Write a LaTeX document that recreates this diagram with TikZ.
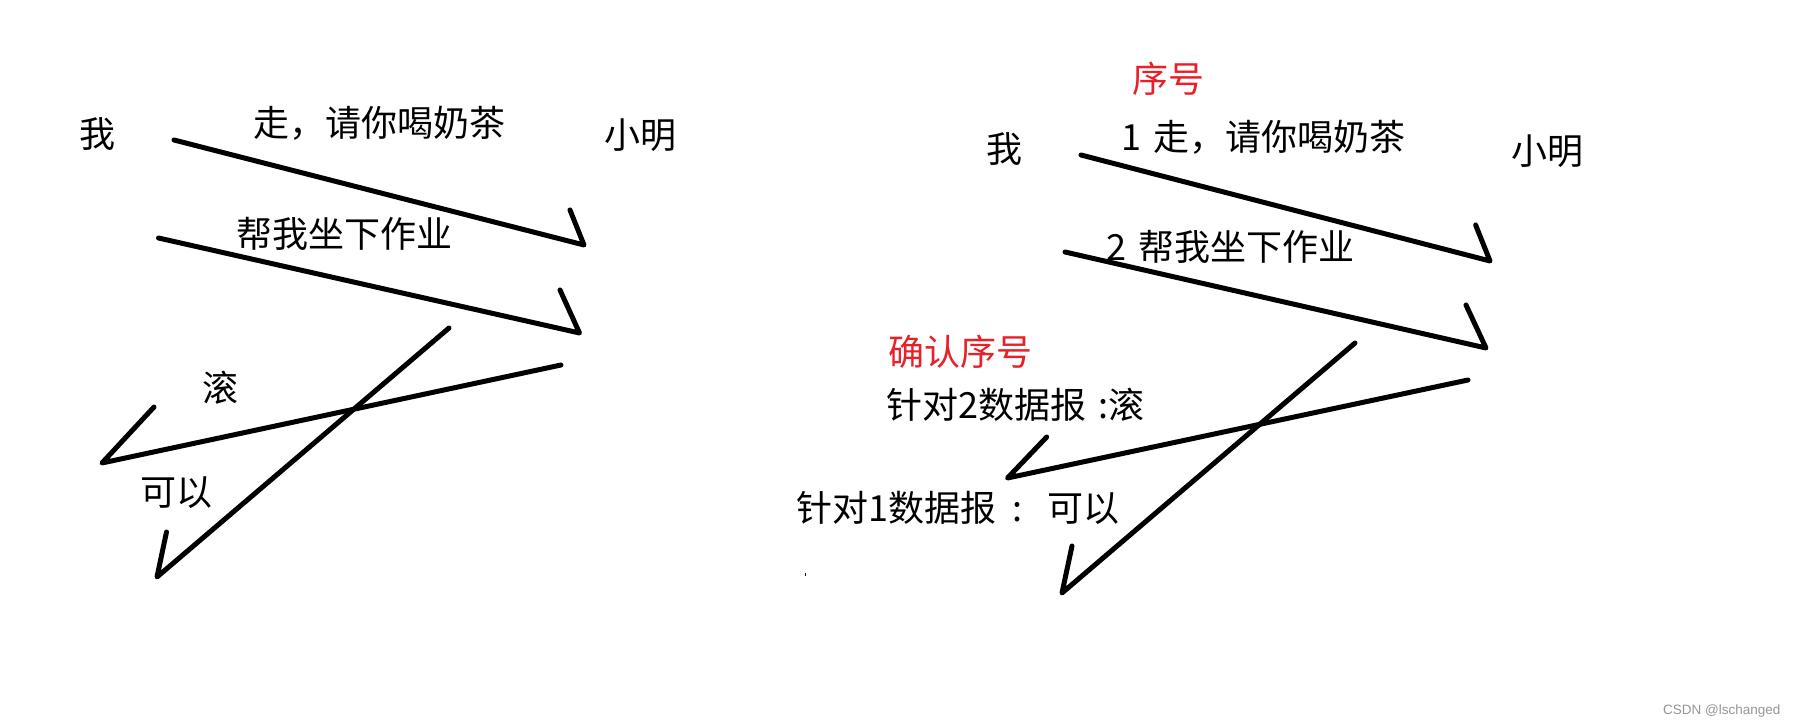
\documentclass[tikz,border=0pt]{standalone}
\usepackage{fontspec}
\newfontfamily\cjk{Noto Sans CJK SC}
\newfontfamily\wm{Liberation Sans}
\definecolor{mark}{RGB}{232,32,40}
\definecolor{wmgray}{RGB}{150,150,150}
\tikzset{
  lbl/.style={anchor=base west,inner sep=0pt,font=\cjk\fontsize{36}{40}\selectfont},
  redlbl/.style={lbl,text=mark},
  stroke/.style={line width=5pt,line cap=round,line join=round},
}
\begin{document}
\begin{tikzpicture}[x=1pt,y=-1pt]
\useasboundingbox[fill=white] (0,0) rectangle (1800,727);
% ---------- left diagram ----------
\node[lbl] (me1) at (79,148) {我};
\node[lbl] (xm1) at (604,149) {小明};
\node[lbl] (t11) at (253,137) {走，请你喝奶茶};
\node[lbl] (t12) at (236,248) {帮我坐下作业};
\node[lbl] (t13) at (202,401) {滚};
\node[lbl] (t14) at (140,505) {可以};
\coordinate (a1s) at (174,140); \coordinate (a1e) at (584,245); \coordinate (a1h) at (570,210);
\coordinate (a2s) at (158.5,238); \coordinate (a2e) at (579.5,333); \coordinate (a2h) at (560,290);
\coordinate (a3s) at (561,365); \coordinate (a3e) at (102,463); \coordinate (a3h) at (154,407);
\coordinate (a4s) at (449,328); \coordinate (a4e) at (157,577); \coordinate (a4h) at (166.5,532);
\draw[stroke] (a1s) -- (a1e) -- (a1h);
\draw[stroke] (a2s) -- (a2e) -- (a2h);
\draw[stroke] (a3s) -- (a3e) -- (a3h);
\draw[stroke] (a4s) -- (a4e) -- (a4h);
% ---------- right diagram ----------
\node[redlbl] (seq) at (1132,93) {序号};
\node[lbl] (me2) at (986,163) {我};
\node[lbl] (xm2) at (1511,165) {小明};
\node[lbl] (t21) at (1121,151) {1\hspace{12pt}走，请你喝奶茶};
\node[lbl] (t22) at (1106,261) {2\hspace{12pt}帮我坐下作业};
\node[redlbl] (ack) at (888,366) {确认序号};
\node[lbl] (t23) at (886,418) {针对2数据报\hspace{12pt}:滚};
\node[lbl] (t24) at (796,521) {针对1数据报\hspace{16pt}:\hspace{25pt}可以};
\coordinate (b1s) at (1081,155); \coordinate (b1e) at (1490,261); \coordinate (b1h) at (1475.6,225);
\coordinate (b2s) at (1065,252); \coordinate (b2e) at (1486,348); \coordinate (b2h) at (1466,305);
\coordinate (b3s) at (1468,380); \coordinate (b3e) at (1007.5,478); \coordinate (b3h) at (1046.7,437);
\coordinate (b4s) at (1355,343); \coordinate (b4e) at (1062,593); \coordinate (b4h) at (1072,546);
\draw[stroke] (b1s) -- (b1e) -- (b1h);
\draw[stroke] (b2s) -- (b2e) -- (b2h);
\draw[stroke] (b3s) -- (b3e) -- (b3h);
\draw[stroke] (b4s) -- (b4e) -- (b4h);
\fill[blue!60!black] (804.5,573) rectangle (805.5,575.5);
% ---------- watermark ----------
\node[anchor=base west,inner sep=0pt,text=wmgray,font=\wm\fontsize{13.5}{15}\selectfont] (wm) at (1663,714) {CSDN @lschanged};
\end{tikzpicture}
\end{document}
